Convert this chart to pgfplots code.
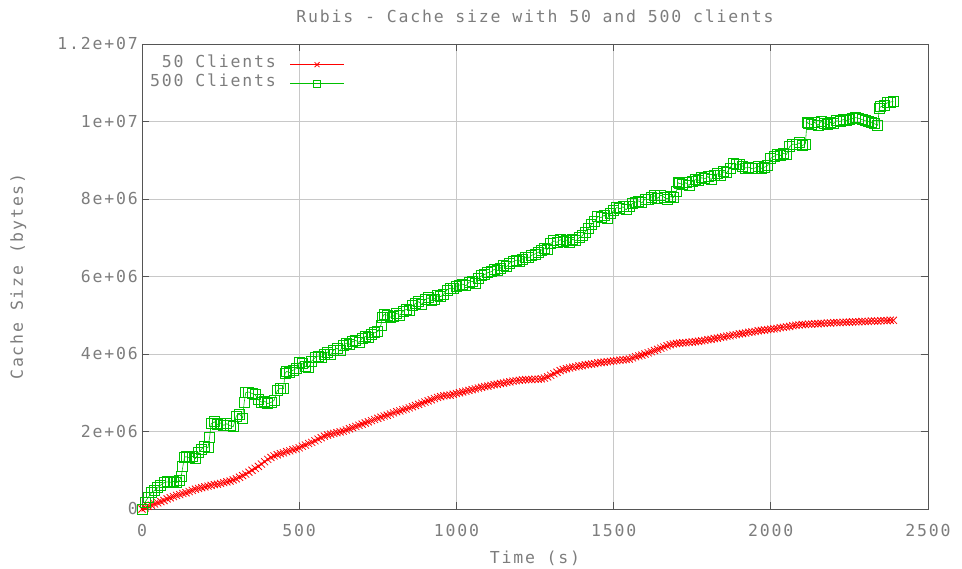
\documentclass[border=0pt]{standalone}
\usepackage{fontspec}
\setmainfont{DejaVu Sans Mono}[LetterSpace=11]
\usepackage{pgfplots}
\pgfplotsset{compat=1.18}
\usepackage{pgfplotstable}
\definecolor{txtgray}{RGB}{125,125,125}
\definecolor{bordergray}{RGB}{85,85,85}
\definecolor{gridgray}{RGB}{200,200,200}
\definecolor{gpred}{RGB}{255,0,0}
\definecolor{gpgreen}{RGB}{0,192,0}

\pgfplotstableread{
x y
0 0.00
10 0.03
20 0.07
30 0.10
40 0.13
50 0.16
60 0.19
70 0.22
80 0.26
90 0.29
100 0.32
110 0.35
120 0.37
130 0.40
140 0.42
150 0.45
160 0.48
170 0.51
180 0.53
190 0.55
200 0.57
210 0.59
220 0.61
230 0.63
240 0.64
250 0.66
260 0.68
270 0.70
280 0.72
290 0.75
300 0.78
310 0.82
320 0.86
330 0.90
340 0.95
350 1.00
360 1.05
370 1.10
380 1.16
390 1.22
400 1.28
410 1.33
420 1.37
430 1.40
440 1.43
450 1.45
460 1.48
470 1.50
480 1.53
490 1.55
500 1.58
510 1.62
520 1.65
530 1.69
540 1.72
550 1.76
560 1.80
570 1.84
580 1.88
590 1.91
600 1.93
610 1.95
620 1.97
630 1.99
640 2.01
650 2.04
660 2.07
670 2.10
680 2.13
690 2.16
700 2.19
710 2.22
720 2.25
730 2.28
740 2.31
750 2.34
760 2.37
770 2.40
780 2.42
790 2.45
800 2.48
810 2.51
820 2.53
830 2.56
840 2.58
850 2.61
860 2.64
870 2.67
880 2.70
890 2.73
900 2.76
910 2.79
920 2.82
930 2.85
940 2.88
950 2.90
960 2.92
970 2.93
980 2.94
990 2.96
1000 2.98
1010 3.00
1020 3.02
1030 3.04
1040 3.06
1050 3.08
1060 3.10
1070 3.12
1080 3.14
1090 3.16
1100 3.17
1110 3.19
1120 3.21
1130 3.22
1140 3.24
1150 3.25
1160 3.27
1170 3.28
1180 3.30
1190 3.31
1200 3.32
1210 3.33
1220 3.34
1230 3.34
1240 3.34
1250 3.35
1260 3.35
1270 3.36
1280 3.38
1290 3.41
1300 3.45
1310 3.49
1320 3.53
1330 3.57
1340 3.60
1350 3.62
1360 3.64
1370 3.66
1380 3.67
1390 3.69
1400 3.70
1410 3.72
1420 3.73
1430 3.74
1440 3.75
1450 3.77
1460 3.78
1470 3.79
1480 3.80
1490 3.81
1500 3.82
1510 3.83
1520 3.84
1530 3.85
1540 3.86
1550 3.87
1560 3.90
1570 3.93
1580 3.95
1590 3.97
1600 4.00
1610 4.03
1620 4.06
1630 4.09
1640 4.12
1650 4.15
1660 4.18
1670 4.21
1680 4.24
1690 4.26
1700 4.27
1710 4.28
1720 4.29
1730 4.29
1740 4.30
1750 4.31
1760 4.32
1770 4.33
1780 4.34
1790 4.35
1800 4.37
1810 4.38
1820 4.40
1830 4.41
1840 4.43
1850 4.44
1860 4.46
1870 4.47
1880 4.49
1890 4.50
1900 4.52
1910 4.53
1920 4.54
1930 4.56
1940 4.57
1950 4.58
1960 4.60
1970 4.61
1980 4.62
1990 4.63
2000 4.64
2010 4.65
2020 4.66
2030 4.68
2040 4.69
2050 4.70
2060 4.71
2070 4.73
2080 4.74
2090 4.75
2100 4.76
2110 4.76
2120 4.77
2130 4.77
2140 4.78
2150 4.78
2160 4.79
2170 4.79
2180 4.80
2190 4.80
2200 4.81
2210 4.81
2220 4.81
2230 4.82
2240 4.82
2250 4.82
2260 4.83
2270 4.83
2280 4.83
2290 4.84
2300 4.84
2310 4.84
2320 4.85
2330 4.85
2340 4.85
2350 4.86
2360 4.86
2370 4.86
2380 4.87
2390 4.87
}\redtable

\pgfplotstableread{
x y
0 0.00
10 0.18
20 0.30
30 0.42
40 0.48
50 0.55
60 0.62
70 0.68
80 0.70
90 0.69
100 0.71
110 0.68
120 0.74
125 0.85
130 1.10
135 1.33
140 1.35
150 1.32
160 1.36
170 1.30
180 1.45
190 1.55
200 1.62
210 1.58
215 1.85
220 2.20
230 2.25
240 2.18
250 2.22
260 2.16
270 2.20
280 2.15
290 2.12
300 2.40
310 2.45
320 2.35
325 2.75
330 3.00
340 3.02
350 2.98
360 2.95
370 2.82
380 2.76
390 2.78
400 2.72
410 2.75
420 2.80
430 3.05
440 3.12
450 3.10
455 3.50
460 3.55
470 3.52
480 3.58
490 3.62
500 3.78
510 3.75
520 3.68
530 3.65
540 3.82
550 3.90
560 3.95
570 3.92
580 4.00
590 4.05
600 3.98
610 4.10
620 4.15
630 4.08
640 4.22
650 4.28
660 4.25
670 4.32
680 4.35
690 4.30
700 4.40
710 4.45
720 4.42
730 4.50
740 4.55
750 4.58
760 4.75
765 4.95
770 5.02
780 5.00
790 4.95
800 4.98
810 5.05
820 5.00
830 5.10
840 5.15
850 5.12
860 5.25
870 5.30
880 5.35
890 5.28
900 5.40
910 5.45
920 5.38
930 5.42
940 5.50
950 5.48
960 5.55
970 5.65
980 5.70
990 5.68
1000 5.75
1010 5.78
1020 5.80
1030 5.76
1040 5.85
1050 5.88
1060 5.82
1070 5.95
1080 6.02
1090 6.05
1100 6.10
1110 6.12
1120 6.18
1130 6.15
1140 6.22
1150 6.28
1160 6.25
1170 6.35
1180 6.38
1190 6.42
1200 6.40
1210 6.45
1220 6.50
1230 6.48
1240 6.55
1250 6.58
1260 6.62
1270 6.68
1280 6.72
1290 6.70
1300 6.85
1310 6.92
1320 6.88
1330 6.95
1340 6.90
1350 6.94
1360 6.88
1370 6.96
1380 6.92
1390 7.00
1400 7.05
1410 7.15
1420 7.25
1430 7.35
1440 7.42
1450 7.55
1460 7.52
1470 7.58
1480 7.50
1490 7.62
1500 7.70
1510 7.78
1520 7.75
1530 7.80
1540 7.72
1550 7.82
1560 7.88
1570 7.92
1580 7.95
1590 7.90
1600 8.00
1610 7.98
1620 8.05
1630 8.08
1640 8.02
1650 8.10
1660 8.05
1670 8.00
1680 8.06
1690 8.04
1700 8.20
1705 8.42
1710 8.40
1720 8.38
1730 8.42
1740 8.35
1750 8.45
1760 8.50
1770 8.48
1780 8.55
1790 8.52
1800 8.58
1810 8.50
1820 8.60
1830 8.65
1840 8.62
1850 8.70
1860 8.68
1870 8.80
1880 8.92
1890 8.88
1900 8.90
1910 8.85
1920 8.80
1930 8.82
1940 8.78
1950 8.80
1960 8.84
1970 8.79
1980 8.82
1990 8.86
2000 9.05
2010 9.10
2020 9.15
2030 9.12
2040 9.18
2050 9.15
2060 9.35
2070 9.42
2080 9.40
2090 9.45
2100 9.38
2110 9.42
2115 9.98
2120 9.95
2130 9.92
2140 9.98
2150 9.90
2160 10.00
2170 9.96
2180 9.92
2190 9.98
2200 9.95
2210 10.02
2220 10.00
2230 10.05
2240 10.02
2250 10.06
2260 10.08
2270 10.10
2280 10.08
2290 10.05
2300 10.02
2310 10.00
2320 9.97
2330 9.94
2340 9.90
2345 10.35
2350 10.38
2360 10.42
2370 10.48
2380 10.50
2390 10.52
}\greentable

\begin{document}
\begin{tikzpicture}[font=\fontsize{16.5}{19}\selectfont]
\useasboundingbox (0,0) rectangle (962pt,569pt);
\begin{axis}[
  at={(142pt,60pt)}, anchor=south west,
  scale only axis, width=786pt, height=465pt,
  xmin=0, xmax=2500, ymin=0, ymax=12,
  clip=false,
  axis line style={bordergray, line width=0.8pt},
  xtick={0,500,1000,1500,2000,2500},
  xticklabels={0,500,1000,1500,2000,2500},
  ytick={0,2,4,6,8,10,12},
  yticklabels={0,2e+06,4e+06,6e+06,8e+06,1e+07,1.2e+07},
  tick align=inside,
  major tick length=7pt,
  tick style={bordergray, line width=0.8pt},
  grid=major,
  major grid style={gridgray, line width=0.7pt},
  xticklabel style={txtgray, anchor=north, inner sep=0pt},
  yticklabel style={txtgray, anchor=east, inner sep=0pt},
  xticklabel shift=15pt,
  yticklabel shift=4pt,
  title={Rubis - Cache size with 50 and 500 clients},
  title style={txtgray, at={(axis description cs:0.5,1)}, anchor=base, yshift=15pt},
  xlabel={Time (s)},
  xlabel style={txtgray, at={(axis description cs:0.5,0)}, anchor=base, yshift=-55pt},
  ylabel={Cache Size (bytes)},
  every axis y label/.style={txtgray, at={(axis description cs:0,0.5)}, rotate=90, anchor=base, yshift=119pt},
  legend plot pos=right,
  legend cell align=right,
  legend style={at={(axis description cs:0.0,1)}, anchor=north west, draw=none, fill=none,
    inner sep=0pt, row sep=0pt, xshift=8pt, yshift=-11pt,
    nodes={inner sep=0pt, text height=12pt, text depth=7pt}},
  legend image code/.code={\path (0pt,0pt); \draw[mark repeat=2,mark phase=2,#1,mark size=3.5pt,line width=0.8pt] plot coordinates {(14pt,0pt) (41pt,0pt) (68pt,0pt)};},
]
\addplot[gpred, line width=0.6pt, mark=x, mark size=5pt, mark options={line width=0.8pt}] table[x=x,y=y] {\redtable};
\addlegendentry{\textcolor{txtgray}{50 Clients}}
\addplot[gpgreen, line width=0.6pt, mark=square, mark size=5pt, mark options={line width=0.8pt}] table[x=x,y=y] {\greentable};
\addlegendentry{\textcolor{txtgray}{500 Clients}}
\end{axis}
\end{tikzpicture}
\end{document}
